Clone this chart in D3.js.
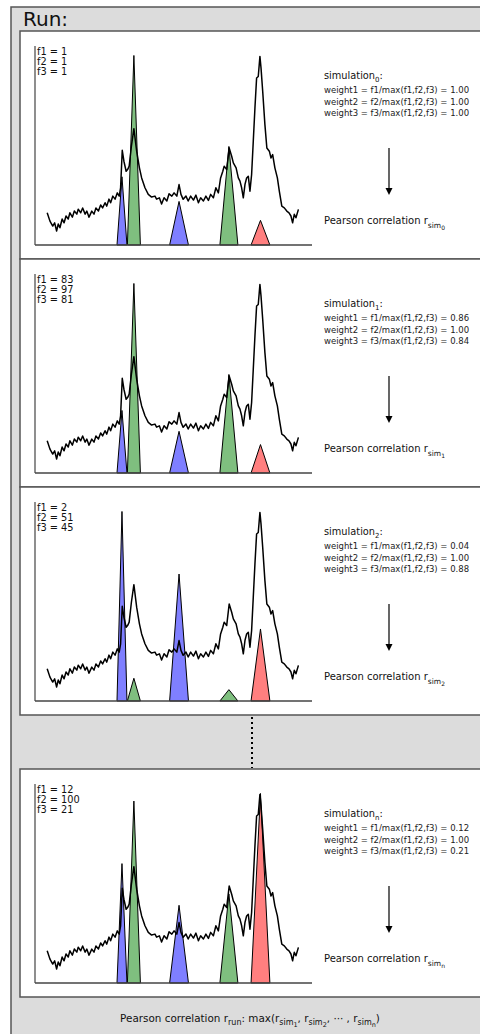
<!DOCTYPE html>
<html>
<head>
<meta charset="utf-8">
<script src="https://cdn.jsdelivr.net/npm/d3@7"></script>
<style>
  body { margin: 0; background: #fff; }
  svg { display: block; font-family: "DejaVu Sans", Verdana, sans-serif; }
</style>
</head>
<body>
<svg width="480" height="1034"></svg>
<script>
// experimental spectrum (same in every panel)
var specShift = [4.4, 5.4, 6.4, 7.1, 7.8, 8.4, 9.0, 9.8, 10.5, 11.2, 12.0, 12.6, 13.5, 14.2, 15.1, 15.6,
  16.5, 17.2, 18.1, 18.7, 19.5, 20.5, 21.3, 22.0, 22.9, 23.7, 24.4, 25.3, 25.9, 26.7, 27.3, 28.1,
  28.9, 29.7, 30.4, 30.9, 31.5, 32.1, 32.9, 33.5, 34.0, 34.8, 35.7, 36.7, 37.7, 38.5, 39.7, 40.9,
  42.1, 43.3, 43.9, 44.9, 45.7, 46.6, 47.6, 48.4, 49.4, 50.2, 51.2, 52.0, 52.7, 53.5, 54.5, 55.3,
  56.2, 57.2, 58.1, 59.0, 59.8, 60.8, 61.7, 62.6, 63.4, 64.4, 65.3, 66.2, 67.0, 67.8, 68.3, 69.2,
  70.1, 71.0, 71.6, 72.6, 73.4, 74.0, 74.6, 75.2, 75.8, 76.4, 77.0, 77.6, 78.2, 78.8, 79.4, 80.0,
  80.6, 81.2, 81.6, 82.2, 83.0, 83.7, 84.6, 85.2, 85.8, 86.6, 87.5, 88.2, 89.1, 90.0, 90.9, 91.7,
  92.4, 93.0, 93.6, 94.2, 95.1];
var specIntensity = [17.0, 12.6, 10.0, 11.7, 7.4, 11.1, 9.1, 13.7, 11.7, 15.3, 13.7, 17.0, 14.7, 17.9, 16.3, 18.9,
  17.0, 19.5, 16.3, 17.9, 14.7, 17.9, 16.3, 19.5, 17.9, 21.1, 19.6, 22.3, 20.5, 24.2, 22.3, 25.8,
  24.2, 27.5, 25.8, 30.2, 50.0, 44.2, 38.9, 40.0, 41.6, 52.1, 61.4, 49.5, 40.7, 35.4, 30.2, 26.7,
  25.3, 25.8, 24.2, 24.9, 21.6, 24.9, 23.2, 27.0, 25.8, 27.5, 25.8, 31.9, 26.7, 24.1, 25.8, 23.2,
  25.8, 23.7, 26.3, 22.3, 24.9, 23.2, 25.8, 23.5, 26.7, 24.9, 30.2, 27.5, 35.4, 38.9, 41.6, 39.8,
  51.2, 46.8, 43.3, 40.7, 35.4, 33.7, 30.2, 24.9, 31.9, 35.4, 36.3, 28.4, 37.2, 54.7, 72.3, 88.1,
  88.9, 99.5, 93.3, 81.1, 63.5, 51.2, 49.5, 45.9, 47.7, 40.7, 35.4, 28.4, 20.5, 19.6, 17.9, 17.0,
  15.3, 11.7, 16.2, 14.4, 18.8];

// simulated peaks (triangles)
var peakCenter = [31.4, 35.7, 52.0, 70.0, 81.4];
var peakHalfWidth = [1.8, 2.35, 3.4, 3.25, 3.4];
var peakGroup = [0, 1, 0, 1, 2];

// one entry per simulation panel
var simLabels = ["0", "1", "2", "n"];
var f1 = [1, 83, 2, 12];
var f2 = [1, 97, 51, 100];
var f3 = [1, 81, 45, 21];
var peakHeights = [
  [36, 100, 23, 52, 13],
  [33, 100, 22, 52, 15],
  [100, 12, 67, 6, 38],
  [63, 96, 41, 47, 100]
];

var groupColor = ["#7f7fff", "#7fbf7f", "#ff7f7f"];

var svg = d3.select("svg");

// outer grey frame
svg.append("rect")
  .attr("x", 11).attr("y", 7)
  .attr("width", 500).attr("height", 1060)
  .attr("fill", "#dcdcdc")
  .attr("stroke", "#555").attr("stroke-width", 1.5);

svg.append("text")
  .attr("x", 23).attr("y", 26)
  .attr("font-size", 20)
  .attr("fill", "#111")
  .text("Run:");

var panelTops = [31, 259, 487, 769];
var panelH = 228;

var x = d3.scaleLinear().domain([0, 100]).range([35, 312]);

var spectrum = specShift.map(function (s, i) { return [s, specIntensity[i]]; });

panelTops.forEach(function (top, p) {
  var g = svg.append("g");

  g.append("rect")
    .attr("x", 20).attr("y", top)
    .attr("width", 480).attr("height", panelH)
    .attr("fill", "#fff")
    .attr("stroke", "#555").attr("stroke-width", 1.5);

  var y = d3.scaleLinear().domain([0, 105]).range([top + 214, top + 15]);
  var line = d3.line()
    .x(function (d) { return x(d[0]); })
    .y(function (d) { return y(d[1]); });

  // triangles
  peakCenter.forEach(function (c, k) {
    var h = peakHeights[p][k];
    var pts = [[c - peakHalfWidth[k], 0], [c, h], [c + peakHalfWidth[k], 0]];
    g.append("path")
      .attr("d", line(pts) + "Z")
      .attr("fill", groupColor[peakGroup[k]])
      .attr("stroke", "#000")
      .attr("stroke-width", 1);
  });

  // spectrum
  g.append("path")
    .attr("d", line(spectrum))
    .attr("fill", "none")
    .attr("stroke", "#000")
    .attr("stroke-width", 1.5)
    .attr("stroke-linejoin", "round");

  // axes
  g.append("line")
    .attr("x1", x(0)).attr("x2", x(0))
    .attr("y1", y(105)).attr("y2", y(0))
    .attr("stroke", "#444").attr("stroke-width", 1.2);
  g.append("line")
    .attr("x1", x(0)).attr("x2", x(100))
    .attr("y1", y(0)).attr("y2", y(0))
    .attr("stroke", "#444").attr("stroke-width", 1.5);

  // factor labels
  [f1[p], f2[p], f3[p]].forEach(function (v, k) {
    g.append("text")
      .attr("x", 37).attr("y", top + 24 + k * 10)
      .attr("font-size", 9.8)
      .attr("fill", "#111")
      .text("f" + (k + 1) + " = " + v);
  });

  // right hand text
  var sim = g.append("text")
    .attr("x", 324).attr("y", top + 48)
    .attr("font-size", 9.8)
    .attr("fill", "#111");
  sim.append("tspan").text("simulation");
  sim.append("tspan").attr("dy", 3).attr("font-size", 7).text(simLabels[p]);
  sim.append("tspan").attr("dy", -3).text(":");

  var fs = [f1[p], f2[p], f3[p]];
  var mx = d3.max(fs);
  fs.forEach(function (v, k) {
    g.append("text")
      .attr("x", 324).attr("y", top + 62 + k * 11.5)
      .attr("font-size", 8.5)
      .attr("fill", "#222")
      .text("weight" + (k + 1) + " = f" + (k + 1) + "/max(f1,f2,f3) = " + (v / mx).toFixed(2));
  });

  // arrow
  g.append("line")
    .attr("x1", 389).attr("x2", 389)
    .attr("y1", top + 117).attr("y2", top + 158)
    .attr("stroke", "#000").attr("stroke-width", 1.2);
  g.append("path")
    .attr("d", "M385.5," + (top + 157) + "L392.5," + (top + 157) + "L389," + (top + 164) + "Z")
    .attr("fill", "#000");

  var pc = g.append("text")
    .attr("x", 324).attr("y", top + 193)
    .attr("font-size", 10)
    .attr("fill", "#111");
  pc.append("tspan").text("Pearson correlation r");
  pc.append("tspan").attr("dy", 3.5).attr("font-size", 7.5).text("sim");
  pc.append("tspan").attr("dy", 2).attr("font-size", 6).text(simLabels[p]);
});

// dotted separator between panel 2 and panel n
svg.append("line")
  .attr("x1", 252).attr("x2", 252)
  .attr("y1", 717).attr("y2", 768)
  .attr("stroke", "#000").attr("stroke-width", 2)
  .attr("stroke-dasharray", "2,3");

// bottom formula
var bt = svg.append("text")
  .attr("x", 250).attr("y", 1022)
  .attr("text-anchor", "middle")
  .attr("font-size", 10.4)
  .attr("fill", "#111");
bt.append("tspan").text("Pearson correlation r");
bt.append("tspan").attr("dy", 3).attr("font-size", 8).text("run");
bt.append("tspan").attr("dy", -3).text(": max(r");
bt.append("tspan").attr("dy", 3).attr("font-size", 8).text("sim");
bt.append("tspan").attr("dy", 1.5).attr("font-size", 6.5).text("1");
bt.append("tspan").attr("dy", -4.5).text(", r");
bt.append("tspan").attr("dy", 3).attr("font-size", 8).text("sim");
bt.append("tspan").attr("dy", 1.5).attr("font-size", 6.5).text("2");
bt.append("tspan").attr("dy", -4.5).text(", \u00b7\u00b7\u00b7 , r");
bt.append("tspan").attr("dy", 3).attr("font-size", 8).text("sim");
bt.append("tspan").attr("dy", 1.5).attr("font-size", 6.5).text("n");
bt.append("tspan").attr("dy", -4.5).text(")");
</script>
</body>
</html>
